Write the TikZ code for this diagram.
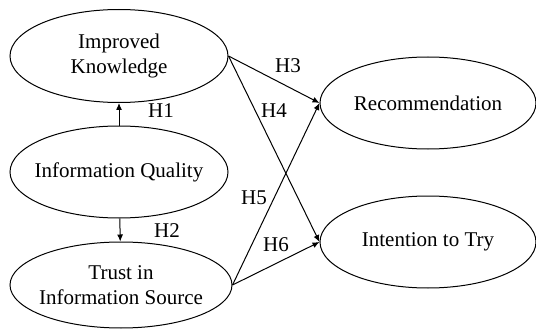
\documentclass[tikz,border=0pt]{standalone}
\usepackage{fontspec}
\setmainfont{Liberation Serif}
\usetikzlibrary{shapes.geometric,arrows.meta}
\begin{document}
\begin{tikzpicture}[x=1pt,y=-1pt,
  construct/.style={draw,ellipse,line width=1pt,inner xsep=-50pt,inner ysep=0pt,align=center,
    font=\fontsize{21}{25}\selectfont},
  hlabel/.style={inner sep=0pt,font=\fontsize{21}{25}\selectfont},
  path/.style={line width=1pt,-{Latex[length=7pt,width=6pt]}}]
\useasboundingbox (0,0) rectangle (536,329);
\node[construct,minimum width=218pt,minimum height=93pt] (ik) at (119,56) {Improved\\Knowledge};
\node[construct,minimum width=218pt,minimum height=92pt] (iq) at (119,172) {Information Quality};
\node[construct,minimum width=222pt,minimum height=86pt] (ts) at (121,285) {Trust in\\Information Source};
\node[construct,minimum width=216pt,minimum height=92pt] (rec) at (428,103) {Recommendation};
\node[construct,minimum width=216pt,minimum height=92pt] (itt) at (428,242) {Intention to Try};
\draw[path] (iq) -- (ik);
\draw[path] (iq) -- (ts);
\draw[path] (ik.east) -- (rec.west);
\draw[path] (ik.east) -- (itt.west);
\draw[path] (ts.east) -- (rec.west);
\draw[path] (ts.east) -- (itt.west);
\node[hlabel] (h1) at (161,111) {H1};
\node[hlabel] (h2) at (167,231) {H2};
\node[hlabel] (h3) at (288,66) {H3};
\node[hlabel] (h4) at (274,111) {H4};
\node[hlabel] (h5) at (254,198) {H5};
\node[hlabel] (h6) at (276,245) {H6};
\end{tikzpicture}
\end{document}
